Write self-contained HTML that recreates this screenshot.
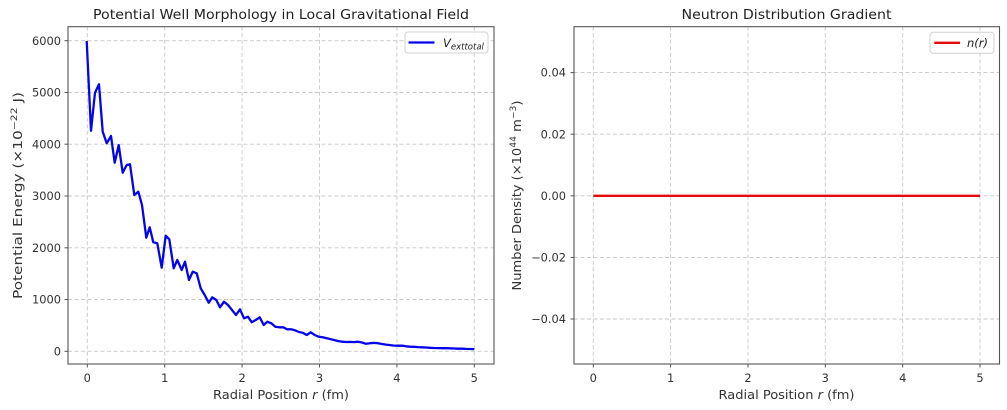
<!DOCTYPE html>
<html><head><meta charset="utf-8"><style>
html,body{margin:0;padding:0;background:#fff;}
svg{display:block;font-family:"DejaVu Sans","Liberation Sans",sans-serif;}
</style></head><body>
<svg width="1007" height="410" viewBox="0 0 1007 410" xmlns="http://www.w3.org/2000/svg">
<rect width="1007" height="410" fill="#fff"/>
<!-- LEFT PLOT -->
<g stroke="#c8c8c8" stroke-width="0.9" stroke-dasharray="4,2.5" fill="none">
<line x1="87.3" y1="26.7" x2="87.3" y2="364"/>
<line x1="164.7" y1="26.7" x2="164.7" y2="364"/>
<line x1="242.1" y1="26.7" x2="242.1" y2="364"/>
<line x1="319.5" y1="26.7" x2="319.5" y2="364"/>
<line x1="396.9" y1="26.7" x2="396.9" y2="364"/>
<line x1="474.3" y1="26.7" x2="474.3" y2="364"/>
<line x1="68" y1="351.3" x2="494" y2="351.3"/>
<line x1="68" y1="299.5" x2="494" y2="299.5"/>
<line x1="68" y1="247.8" x2="494" y2="247.8"/>
<line x1="68" y1="196" x2="494" y2="196"/>
<line x1="68" y1="144.2" x2="494" y2="144.2"/>
<line x1="68" y1="92.5" x2="494" y2="92.5"/>
<line x1="68" y1="40.7" x2="494" y2="40.7"/>
</g>
<polyline fill="none" stroke="#0505ea" stroke-width="2.3" stroke-linejoin="round" points="86.7,41 91,130.7 95,92.7 99,84.3 102.7,131.7 106.7,143.3 111,136 114.7,162.7 118.7,145 122.7,172.7 126.7,165 130,164.3 134.3,195 138.3,191.7 142,205 146.3,237.7 149.7,227.3 153.3,242.3 157.3,243.3 161.7,267.7 165.7,235.7 169.3,239.3 173.7,268.3 177.3,260 181.7,270 185,261.7 189,280 192.7,271.7 196.7,273.3 200.7,288.3 204.7,295 208.7,302.7 212.3,297.3 216.3,300 220,307.3 224,301.7 228,305 232,310 236,315 240,309.3 244,318.3 248,316.7 251.7,322.3 255.7,320 259.7,317.3 263.7,325 267.3,321.7 271.3,323.3 275.3,326.7 279.3,327.3 283.3,327.3 287,329.3 291,329.3 295,330.3 299,332 302.7,332.7 306.7,335 310.7,332.3 314.7,335 318.7,336.7 322.7,337.3 326.7,338.3 330,339 334,340 338,341 342,341.7 346,342 350,341.9 354,342.1 358,341.7 362,342.5 366,343.8 370,343.2 374,342.9 378,343.2 382,344 386,344.6 390,345.1 394,345.6 398,345.7 402,345.6 406,346.3 410,346.7 414,346.8 418,347.1 422,347.3 426,347.5 430,347.8 434,348 438,348.1 442,348.2 446,348.2 450,348.3 454,348.5 458,348.7 462,348.7 466,348.9 470,349 474.3,349.1"/>
<rect x="68" y="26.7" width="426" height="337.3" fill="none" stroke="#555" stroke-width="1.1"/>
<g stroke="#555" stroke-width="1">
<line x1="87.3" y1="364" x2="87.3" y2="367.5"/>
<line x1="164.7" y1="364" x2="164.7" y2="367.5"/>
<line x1="242.1" y1="364" x2="242.1" y2="367.5"/>
<line x1="319.5" y1="364" x2="319.5" y2="367.5"/>
<line x1="396.9" y1="364" x2="396.9" y2="367.5"/>
<line x1="474.3" y1="364" x2="474.3" y2="367.5"/>
<line x1="64.5" y1="351.3" x2="68" y2="351.3"/>
<line x1="64.5" y1="299.5" x2="68" y2="299.5"/>
<line x1="64.5" y1="247.8" x2="68" y2="247.8"/>
<line x1="64.5" y1="196" x2="68" y2="196"/>
<line x1="64.5" y1="144.2" x2="68" y2="144.2"/>
<line x1="64.5" y1="92.5" x2="68" y2="92.5"/>
<line x1="64.5" y1="40.7" x2="68" y2="40.7"/>
</g>
<g font-size="11.4" fill="#333" text-anchor="middle">
<text x="87.3" y="382">0</text>
<text x="164.7" y="382">1</text>
<text x="242.1" y="382">2</text>
<text x="319.5" y="382">3</text>
<text x="396.9" y="382">4</text>
<text x="474.3" y="382">5</text>
</g>
<g font-size="11.4" fill="#333" text-anchor="end">
<text x="61" y="355.4">0</text>
<text x="61" y="303.6">1000</text>
<text x="61" y="251.9">2000</text>
<text x="61" y="200.1">3000</text>
<text x="61" y="148.3">4000</text>
<text x="61" y="96.6">5000</text>
<text x="61" y="44.8">6000</text>
</g>
<text x="281" y="19" font-size="13" fill="#222" text-anchor="middle" textLength="376" lengthAdjust="spacingAndGlyphs">Potential Well Morphology in Local Gravitational Field</text>
<text x="281" y="399" font-size="12" fill="#333" text-anchor="middle" textLength="136" lengthAdjust="spacingAndGlyphs">Radial Position <tspan font-style="italic">r</tspan> (fm)</text>
<text transform="translate(22,195.5) rotate(-90)" font-size="12" fill="#333" text-anchor="middle" textLength="207" lengthAdjust="spacingAndGlyphs">Potential Energy (×10<tspan font-size="8.5" dy="-5">−22</tspan><tspan dy="5"> J)</tspan></text>
<rect x="405" y="32" width="83" height="21" rx="3" fill="#fff" fill-opacity="0.85" stroke="#d0d0d0" stroke-width="1"/>
<line x1="408.5" y1="42.5" x2="434.5" y2="42.5" stroke="#0505ea" stroke-width="2.3"/>
<text x="443" y="47" font-size="11.5" font-style="italic" fill="#222">V<tspan font-size="8.5" dy="2.5">exttotal</tspan></text>
<!-- RIGHT PLOT -->
<g stroke="#c8c8c8" stroke-width="0.9" stroke-dasharray="4,2.5" fill="none">
<line x1="593.3" y1="26.7" x2="593.3" y2="364"/>
<line x1="670.6" y1="26.7" x2="670.6" y2="364"/>
<line x1="748" y1="26.7" x2="748" y2="364"/>
<line x1="825.3" y1="26.7" x2="825.3" y2="364"/>
<line x1="902.7" y1="26.7" x2="902.7" y2="364"/>
<line x1="980" y1="26.7" x2="980" y2="364"/>
<line x1="574" y1="72.6" x2="999.5" y2="72.6"/>
<line x1="574" y1="134.2" x2="999.5" y2="134.2"/>
<line x1="574" y1="195.8" x2="999.5" y2="195.8"/>
<line x1="574" y1="257.4" x2="999.5" y2="257.4"/>
<line x1="574" y1="319" x2="999.5" y2="319"/>
</g>
<line x1="593.3" y1="195.8" x2="980" y2="195.8" stroke="#e60a0a" stroke-width="2.3"/>
<rect x="574" y="26.7" width="425.5" height="337.3" fill="none" stroke="#555" stroke-width="1.1"/>
<g stroke="#555" stroke-width="1">
<line x1="593.3" y1="364" x2="593.3" y2="367.5"/>
<line x1="670.6" y1="364" x2="670.6" y2="367.5"/>
<line x1="748" y1="364" x2="748" y2="367.5"/>
<line x1="825.3" y1="364" x2="825.3" y2="367.5"/>
<line x1="902.7" y1="364" x2="902.7" y2="367.5"/>
<line x1="980" y1="364" x2="980" y2="367.5"/>
<line x1="570.5" y1="72.6" x2="574" y2="72.6"/>
<line x1="570.5" y1="134.2" x2="574" y2="134.2"/>
<line x1="570.5" y1="195.8" x2="574" y2="195.8"/>
<line x1="570.5" y1="257.4" x2="574" y2="257.4"/>
<line x1="570.5" y1="319" x2="574" y2="319"/>
</g>
<g font-size="11.4" fill="#333" text-anchor="middle">
<text x="593.3" y="382">0</text>
<text x="670.6" y="382">1</text>
<text x="748" y="382">2</text>
<text x="825.3" y="382">3</text>
<text x="902.7" y="382">4</text>
<text x="980" y="382">5</text>
</g>
<g font-size="11.4" fill="#333" text-anchor="end">
<text x="566" y="76.7">0.04</text>
<text x="566" y="138.3">0.02</text>
<text x="566" y="199.9">0.00</text>
<text x="566" y="261.5">−0.02</text>
<text x="566" y="323.1">−0.04</text>
</g>
<text x="786.5" y="19" font-size="13" fill="#222" text-anchor="middle" textLength="210" lengthAdjust="spacingAndGlyphs">Neutron Distribution Gradient</text>
<text x="786.5" y="399" font-size="12" fill="#333" text-anchor="middle" textLength="136" lengthAdjust="spacingAndGlyphs">Radial Position <tspan font-style="italic">r</tspan> (fm)</text>
<text transform="translate(521,195.5) rotate(-90)" font-size="12" fill="#333" text-anchor="middle" textLength="190" lengthAdjust="spacingAndGlyphs">Number Density (×10<tspan font-size="8.5" dy="-5">44</tspan><tspan dy="5"> m</tspan><tspan font-size="8.5" dy="-5">−3</tspan><tspan dy="5">)</tspan></text>
<rect x="930" y="32.3" width="64" height="21" rx="3" fill="#fff" fill-opacity="0.85" stroke="#d0d0d0" stroke-width="1"/>
<line x1="934.3" y1="42.8" x2="960" y2="42.8" stroke="#e60a0a" stroke-width="2.3"/>
<text x="967" y="47" font-size="11.5" font-style="italic" fill="#222">n(r)</text>
</svg>
</body></html>
